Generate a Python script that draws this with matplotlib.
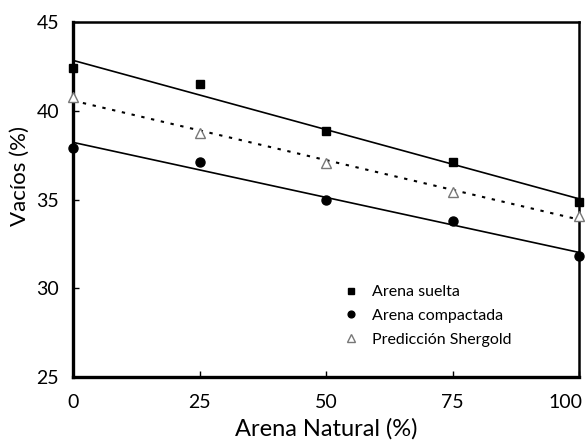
import numpy as np
from matplotlib import pyplot as plt
from matplotlib import transforms

plt.rcParams['font.family'] = ['Lato', 'DejaVu Sans']

#%% Data
arena_natural = [0, 25, 50, 75, 100]
arena_suelta = [42.4, 41.5, 38.85, 37.1, 34.85]
arena_compactada = [37.9, 37.1, 35.0, 33.8, 31.8]
prediccion_shergold = [40.8, 38.75, 37.05, 35.4, 34.1]

x_ticks = [0, 25, 50, 75, 100]
y_ticks = [25, 30, 35, 40, 45]

#%% Plot
fig = plt.figure(figsize=(5.85, 4.41), dpi=100)
ax = fig.add_axes([0.125, 0.145, 0.865, 0.805])

xfit = np.array([0, 100])
for yvals, ls in [(arena_suelta, '-'), (arena_compactada, '-'), (prediccion_shergold, (0, (1.6, 3.2)))]:
    m, b = np.polyfit(arena_natural, yvals, 1)
    ax.plot(xfit, m * xfit + b, color='black', lw=1.2 if ls == '-' else 1.5,
            linestyle=ls, zorder=2)

ax.plot(arena_natural, arena_suelta, 's', color='black', ms=6, ls='none',
        label='Arena suelta', clip_on=False, zorder=3)
ax.plot(arena_natural, arena_compactada, 'o', color='black', ms=6.5, ls='none',
        label='Arena compactada', clip_on=False, zorder=3)
ax.plot(arena_natural, prediccion_shergold, '^', mfc='white', mec='#777777', mew=1.0, ms=7,
        ls='none', label='Predicción Shergold', clip_on=False, zorder=3)

ax.set_xlim(0, 100)
ax.set_ylim(25, 45)
ax.set_xticks(x_ticks)
ax.set_yticks(y_ticks)
ax.tick_params(direction='in', length=4, width=1, labelsize=14)
ax.tick_params(axis='x', pad=12)
ax.tick_params(axis='y', pad=10)

# last x label sits left of its tick so it fits in the figure
lbl = ax.get_xticklabels()[-1]
lbl.set_transform(lbl.get_transform() + transforms.ScaledTranslation(-14 / 100, 0, fig.dpi_scale_trans))

ax.set_xlabel('Arena Natural (%)', fontsize=17, labelpad=5)
ax.set_ylabel('Vacíos (%)', fontsize=16)
ax.yaxis.set_label_coords(-0.085, 0.566)

for s in ['left', 'bottom']:
    ax.spines[s].set_linewidth(2.4)
for s in ['top', 'right']:
    ax.spines[s].set_linewidth(1.8)

ax.legend(loc='upper left', bbox_to_anchor=(0.505, 0.3), frameon=False, fontsize=11.5,
          handlelength=1.0, handletextpad=0.8, labelspacing=0.6, markerscale=0.75)

plt.savefig('out.png', dpi=100)
